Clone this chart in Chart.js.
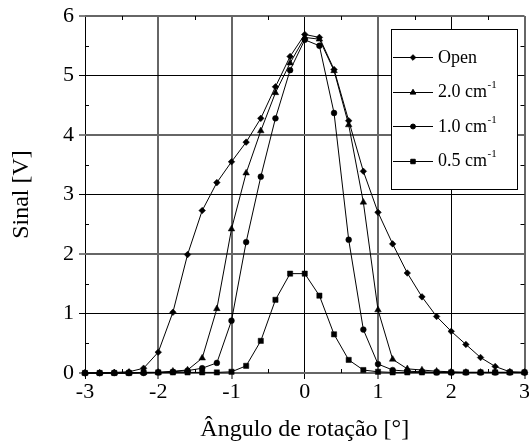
<!DOCTYPE html>
<html>
<head>
<meta charset="utf-8">
<script src="https://cdn.jsdelivr.net/npm/chart.js@4/dist/chart.umd.min.js"></script>
<style>
html,body{margin:0;padding:0;background:#fff;}
canvas{display:block;}
</style>
</head>
<body>
<canvas id="c" width="529" height="446"></canvas>
<script>
// ---- data ----
const angles = [-3.0,-2.8,-2.6,-2.4,-2.2,-2.0,-1.8,-1.6,-1.4,-1.2,-1.0,-0.8,-0.6,-0.4,-0.2,0.0,0.2,0.4,0.6,0.8,1.0,1.2,1.4,1.6,1.8,2.0,2.2,2.4,2.6,2.8,3.0];
const openSignal = [0.00,0.00,0.01,0.02,0.08,0.35,1.02,1.99,2.73,3.20,3.55,3.88,4.28,4.81,5.32,5.69,5.64,5.10,4.24,3.39,2.70,2.17,1.68,1.28,0.95,0.70,0.48,0.26,0.11,0.02,0.01];
const signal20 = [0.00,0.00,0.00,0.00,0.01,0.01,0.03,0.05,0.25,1.08,2.42,3.36,4.07,4.71,5.21,5.64,5.61,5.08,4.17,2.87,1.06,0.23,0.07,0.05,0.03,0.02,0.01,0.01,0.01,0.01,0.01];
const signal10 = [0.00,0.00,0.00,0.00,0.00,0.01,0.02,0.04,0.08,0.17,0.88,2.20,3.30,4.28,5.09,5.60,5.50,4.37,2.24,0.73,0.15,0.05,0.03,0.02,0.01,0.01,0.01,0.01,0.01,0.01,0.01];
const signal05 = [0.00,0.00,0.00,0.00,0.01,0.01,0.01,0.01,0.01,0.01,0.02,0.12,0.54,1.23,1.67,1.67,1.30,0.65,0.22,0.05,0.02,0.01,0.01,0.01,0.01,0.01,0.01,0.01,0.01,0.01,0.01];
const seriesNames = ['Open','2.0 cm','1.0 cm','0.5 cm'];
const seriesSup = ['','-1','-1','-1'];
const xTickValues = [-3,-2,-1,0,1,2,3];
const yTickValues = [0,1,2,3,4,5,6];
const xTitle = 'Ângulo de rotação [°]';
const yTitle = 'Sinal [V]';

// ---- styling ----
const FONT = '"Liberation Serif","Times New Roman",serif';
const seriesValues = [openSignal, signal20, signal10, signal05];
const markerStyles = [
  {pointStyle:'rectRot', radius:3.3},
  {pointStyle:'triangle', radius:3.8},
  {pointStyle:'circle', radius:2.9},
  {pointStyle:'rect', radius:3.7}
];

const datasets = seriesValues.map((vals, i) => ({
  label: seriesNames[i] + seriesSup[i],
  data: angles.map((a, j) => ({x: a, y: vals[j]})),
  borderColor: '#000',
  backgroundColor: '#000',
  borderWidth: 1,
  pointStyle: markerStyles[i].pointStyle,
  pointRadius: markerStyles[i].radius,
  pointBackgroundColor: '#000',
  pointBorderColor: '#000',
  pointBorderWidth: 0.5,
  tension: 0,
  clip: false
}));

// grid lines of the reference alternate between crisp black and soft grey (resampling)
const softX = [false,true,true,false,true,false,true];
const softY = [true,false,true,false,true,false,true];
const gridColor = soft => c => (soft[c.index] ? '#666' : '#000');
const gridWidth = soft => c => (soft[c.index] ? 2 : 1);

const minorTicks = {
  id: 'minorTicks',
  beforeDatasetsDraw(chart) {
    const {ctx, chartArea: a, scales: {x, y}} = chart;
    ctx.save();
    ctx.strokeStyle = '#000';
    ctx.lineWidth = 1;
    ctx.beginPath();
    for (let v = x.min + 0.5; v < x.max; v += 1) {
      const px = Math.round(x.getPixelForValue(v)) + 0.5;
      ctx.moveTo(px, a.bottom); ctx.lineTo(px, a.bottom - 4);
      ctx.moveTo(px, a.top); ctx.lineTo(px, a.top + 4);
    }
    for (let v = y.min + 0.5; v < y.max; v += 1) {
      const py = Math.round(y.getPixelForValue(v)) + 0.5;
      ctx.moveTo(a.left, py); ctx.lineTo(a.left + 4, py);
      ctx.moveTo(a.right, py); ctx.lineTo(a.right - 4, py);
    }
    ctx.stroke();
    ctx.restore();
  }
};

const boxLegend = {
  id: 'boxLegend',
  afterDraw(chart) {
    const ctx = chart.ctx;
    const bx = 391, by = 29, bw = 126, bh = 160;
    ctx.save();
    ctx.fillStyle = '#fff';
    ctx.fillRect(bx, by, bw, bh);
    ctx.strokeStyle = '#000';
    ctx.lineWidth = 1;
    ctx.strokeRect(bx + 0.5, by + 0.5, bw, bh);
    chart.data.datasets.forEach((ds, i) => {
      const ry = 57 + i * 34.5;
      ctx.strokeStyle = '#000';
      ctx.lineWidth = 1;
      ctx.beginPath();
      ctx.moveTo(393, Math.round(ry) + 0.5);
      ctx.lineTo(433, Math.round(ry) + 0.5);
      ctx.stroke();
      ctx.fillStyle = '#000';
      Chart.helpers.drawPoint(ctx, {pointStyle: ds.pointStyle, radius: ds.pointRadius * 0.85, rotation: 0, borderWidth: 0.5}, 413, Math.round(ry) + 0.5);
      ctx.fillStyle = '#000';
      ctx.font = '18px ' + FONT;
      ctx.textBaseline = 'middle';
      ctx.textAlign = 'left';
      ctx.fillText(seriesNames[i], 438, ry + 1);
      if (seriesSup[i]) {
        const w = ctx.measureText(seriesNames[i]).width;
        ctx.font = '11px ' + FONT;
        ctx.fillText(seriesSup[i], 438 + w + 0.5, ry - 6);
      }
    });
    ctx.restore();
  }
};

new Chart(document.getElementById('c'), {
  type: 'line',
  data: {datasets},
  options: {
    responsive: false,
    animation: false,
    devicePixelRatio: 1,
    layout: {padding: {top: 16, right: 3, left: 0, bottom: 0}},
    plugins: {legend: {display: false}, tooltip: {enabled: false}},
    scales: {
      x: {
        type: 'linear',
        min: -3, max: 3,
        afterBuildTicks: s => { s.ticks = xTickValues.map(v => ({value: v})); },
        afterFit: s => { s.height = 73; s.paddingLeft = 0; s.paddingRight = 0; },
        ticks: {font: {family: FONT, size: 22}, color: '#000', padding: 0, maxRotation: 0, autoSkip: false, callback: v => String(v)},
        grid: {color: gridColor(softX), lineWidth: gridWidth(softX), drawTicks: true, tickLength: 6, tickColor: '#000', tickWidth: 1},
        border: {display: false},
        title: {display: true, text: xTitle, color: '#000', font: {family: FONT, size: 24}, padding: {top: 0, bottom: 2}}
      },
      y: {
        type: 'linear',
        min: 0, max: 6,
        afterBuildTicks: s => { s.ticks = yTickValues.map(v => ({value: v})); },
        afterFit: s => { s.width = 85; s.paddingTop = 0; s.paddingBottom = 0; },
        ticks: {font: {family: FONT, size: 22}, color: '#000', padding: 5, callback: v => String(v)},
        grid: {color: gridColor(softY), lineWidth: gridWidth(softY), drawTicks: true, tickLength: 6, tickColor: '#000', tickWidth: 1},
        border: {display: false},
        title: {display: true, text: yTitle, color: '#000', font: {family: FONT, size: 24}, padding: {top: 7, bottom: 0}}
      }
    }
  },
  plugins: [minorTicks, boxLegend]
});
</script>
</body>
</html>
